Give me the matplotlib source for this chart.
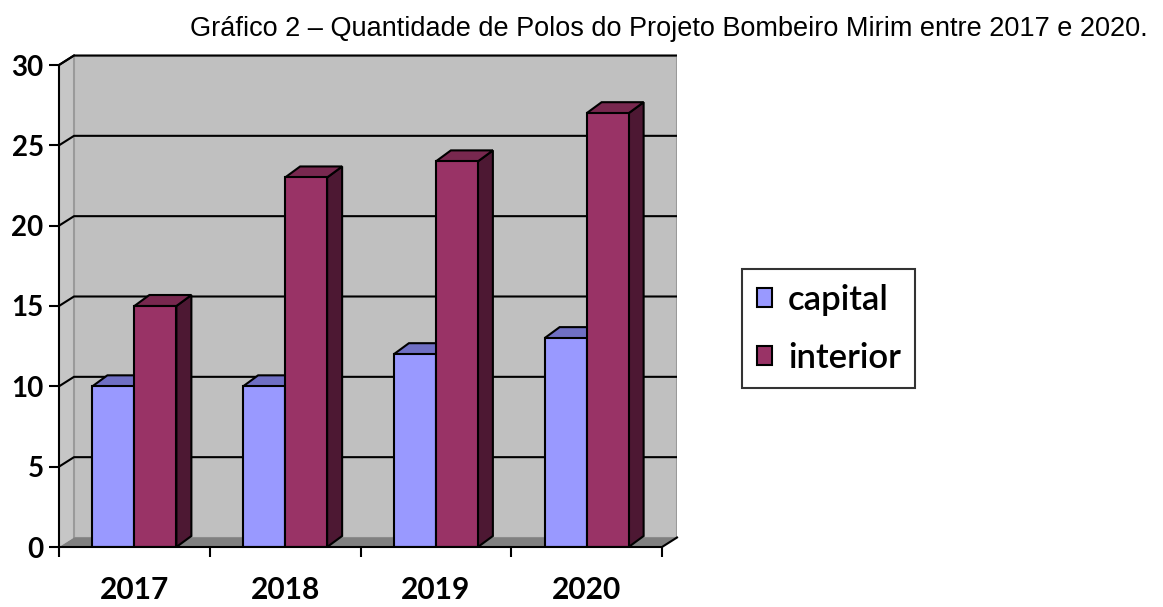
import numpy as np
import matplotlib
matplotlib.use('Agg')
import matplotlib.pyplot as plt
from matplotlib.patches import Polygon, Rectangle

# data
years = ['2017', '2018', '2019', '2020']
capital = [10, 10, 12, 13]
interior = [15, 23, 24, 27]
series_names = ['capital', 'interior']
y_ticks = [0, 5, 10, 15, 20, 25, 30]

TITLE = 'Gráfico 2 – Quantidade de Polos do Projeto Bombeiro Mirim entre 2017 e 2020.'

# colours (Excel 2003 style)
FRONT = {'capital': '#9999ff', 'interior': '#993366'}
TOP = {'capital': '#6f6fc4', 'interior': '#78284f'}
SIDE = {'capital': '#5c5ca8', 'interior': '#4d1833'}
WALL = '#c0c0c0'
FLOOR = '#808080'

W, H = 1163, 607
fig = plt.figure(figsize=(W / 100, H / 100), dpi=100)

# front plane in pixels: x 59..662 (4 categories), y 0 at 547, 30 at 65
PX_CAT = (662 - 59) / 4
PX_VAL = (547 - 65) / 30
WALL_DX, WALL_DY = 15, 9.5
BAR_DX, BAR_DY = 15, 11
wdx, wdy = WALL_DX / PX_CAT, WALL_DY / PX_VAL
bdx, bdy = BAR_DX / PX_CAT, BAR_DY / PX_VAL

ymax = 30
x0, x1 = -0.5, len(years) - 0.5
left_px, right_px = 59, 662 + WALL_DX
bot_px, top_px = 547, 65 - WALL_DY
ax = fig.add_axes([left_px / W, (H - bot_px) / H,
                   (right_px - left_px) / W, (bot_px - top_px) / H])
ax.set_xlim(x0, x1 + wdx)
ax.set_ylim(0, ymax + wdy)
ax.patch.set_visible(False)

# side wall, back wall, floor
ax.add_patch(Polygon([(x0, 0), (x0 + wdx, wdy), (x0 + wdx, ymax + wdy), (x0, ymax)],
                     closed=True, fc='#c6c6c6', ec='none', zorder=1))
ax.add_patch(Rectangle((x0 + wdx, wdy), x1 - x0, ymax, fc=WALL, ec='#9a9a9a', lw=1.5, zorder=1))
ax.add_patch(Polygon([(x0, 0), (x1, 0), (x1 + wdx, wdy), (x0 + wdx, wdy)],
                     closed=True, fc=FLOOR, ec='none', zorder=2))

# gridlines on side + back walls
for v in y_ticks[1:]:
    ax.plot([x0, x0 + wdx, x1 + wdx], [v, v + wdy, v + wdy], color='black', lw=1.5, zorder=2,
            clip_on=False, solid_capstyle='butt')

# bars
bar_w = 42 / PX_CAT
xs = np.arange(len(years))
for name, vals, off in [('capital', capital, -bar_w), ('interior', interior, 0.0)]:
    for x, v in zip(xs, vals):
        l = x + off
        r = l + bar_w
        ax.add_patch(Polygon([(r, 0), (r + bdx, bdy), (r + bdx, v + bdy), (r, v)], closed=True,
                             fc=SIDE[name], ec='black', lw=1.5, zorder=3, joinstyle='miter'))
        ax.add_patch(Polygon([(l, v), (l + bdx, v + bdy), (r + bdx, v + bdy), (r, v)], closed=True,
                             fc=TOP[name], ec='black', lw=1.5, zorder=3, joinstyle='miter'))
        ax.add_patch(Rectangle((l, 0), bar_w, v, fc=FRONT[name], ec='black', lw=1.5, zorder=4))

# front axes lines
ax.plot([x0, x0, x0 + wdx], [0, ymax, ymax + wdy], color='black', lw=1.5, zorder=5, clip_on=False)
ax.plot([x0, x1, x1 + wdx], [0, 0, wdy], color='black', lw=1.5, zorder=5, clip_on=False)

for s in ax.spines.values():
    s.set_visible(False)

ax.set_yticks(y_ticks)
ax.set_yticklabels([str(t) for t in y_ticks])
ax.tick_params(axis='y', direction='out', length=7, width=1.5, pad=4,
               labelsize=20, left=True)
ax.set_xticks(np.arange(len(years) + 1) - 0.5)
ax.set_xticklabels([''] * (len(years) + 1))
ax.set_xticks(xs, minor=True)
ax.set_xticklabels(years, minor=True)
ax.tick_params(axis='x', which='major', direction='out', length=7, width=1.5)
ax.tick_params(axis='x', which='minor', length=0, pad=21, labelsize=21.5)
for lab in ax.get_yticklabels() + ax.get_xticklabels(minor=True):
    lab.set_fontfamily('Lato')
    lab.set_fontweight('bold')

# legend
handles = [Rectangle((0, 0), 1, 1, fc=FRONT[n], ec='black', lw=1.5) for n in series_names]
leg = fig.legend(handles, series_names, loc='upper left',
                 bbox_to_anchor=(742 / W, 1 - 269 / H), frameon=True, fancybox=False,
                 prop={'family': 'Lato', 'size': 25, 'weight': 'semibold'},
                 handlelength=0.45, handleheight=0.45,
                 handletextpad=0.45, labelspacing=0.75, borderpad=0.42, borderaxespad=0)
leg.get_frame().set_edgecolor('black')
leg.get_frame().set_linewidth(1.5)

fig.text(669 / W, 1 - 29 / H, TITLE, ha='center', va='center',
         fontsize=19.5, family='Liberation Sans')

fig.savefig('out.png', dpi=100, facecolor='white')
